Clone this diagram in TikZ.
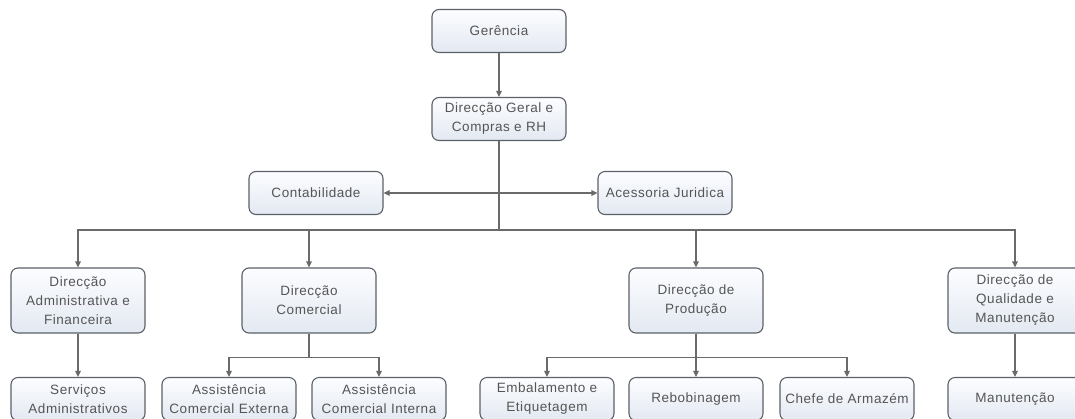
\documentclass[tikz,border=0pt]{standalone}
\usepackage{fontspec}
\setmainfont[LetterSpace=4]{Liberation Sans}
\usetikzlibrary{arrows.meta}
\definecolor{boxline}{HTML}{5C6168}
\definecolor{boxtop}{HTML}{FCFDFF}
\definecolor{boxbot}{HTML}{E3E9F2}
\definecolor{wire}{HTML}{6A6A6A}
\definecolor{label}{HTML}{555555}
\begin{document}
\begin{tikzpicture}[x=1pt,y=-1pt,
  unit/.style={draw=boxline, line width=1.1pt, rounded corners=7pt,
    top color=boxtop, bottom color=boxbot, text=label,
    font=\fontsize{13.5}{19}\selectfont, align=center,
    minimum width=134pt, inner sep=0pt},
  short/.style={unit, minimum height=43pt},
  tall/.style={unit, minimum height=65pt},
  link/.style={draw=wire, line width=1.1pt},
  feed/.style={link, -{Triangle[length=6pt,width=5.5pt]}}]
  \clip (0,0) rectangle (1075,418);
  \fill[white] (0,0) rectangle (1075,418);

  % top of the hierarchy
  \node[short] (ger) at (499,31)  {Gerência};
  \node[short] (dg)  at (499,119) {Direcção Geral e\\Compras e RH};

  % staff units beside the general direction
  \node[short] (con) at (316,193) {Contabilidade};
  \node[short] (acc) at (665,193) {Acessoria Juridica};

  % directions
  \node[tall] (adm) at (78,300.5)   {Direcção\\Administrativa e\\Financeira};
  \node[tall] (com) at (309,300.5)  {Direcção\\Comercial};
  \node[tall] (prd) at (696,300.5)  {Direcção de\\Produção};
  \node[tall] (qua) at (1015,300.5) {Direcção de\\Qualidade e\\Manutenção};

  % operational units
  \node[short] (srv) at (78,399)   {Serviços\\Administrativos};
  \node[short] (ext) at (229,399)  {Assistência\\Comercial Externa};
  \node[short] (int) at (379,399)  {Assistência\\Comercial Interna};
  \node[short] (emb) at (547,399)  {Embalamento e\\Etiquetagem};
  \node[short] (reb) at (696,399)  {Rebobinagem};
  \node[short] (chf) at (847,399)  {Chefe de Armazém};
  \node[short] (man) at (1015,399) {Manutenção};

  \coordinate (side) at (499,193);
  \coordinate (hub)  at (499,230);

  % connectors
  \draw[feed] (ger) -- (dg);
  \draw[link] (dg) -- (hub);
  \draw[feed] (side) -- (con);
  \draw[feed] (side) -- (acc);

  \draw[feed] (hub) -| (adm);
  \draw[feed] (hub) -| (com);
  \draw[feed] (hub) -| (prd);
  \draw[feed] (hub) -| (qua);

  \draw[feed] (adm) -- (srv);
  \draw[feed] (com.south) -- ++(0,24) -| (ext);
  \draw[feed] (com.south) -- ++(0,24) -| (int);
  \draw[feed] (prd.south) -- ++(0,24) -| (emb);
  \draw[feed] (prd) -- (reb);
  \draw[feed] (prd.south) -- ++(0,24) -| (chf);
  \draw[feed] (qua) -- (man);
\end{tikzpicture}
\end{document}
